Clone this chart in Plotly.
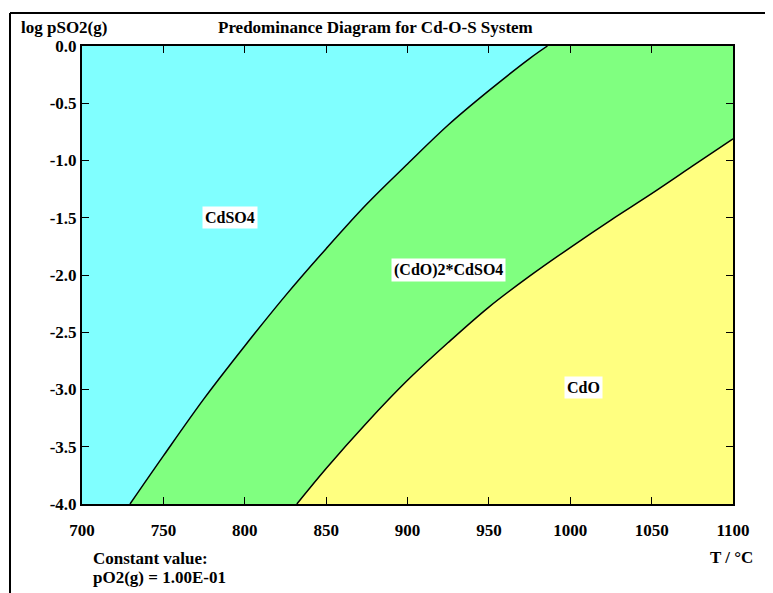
import plotly.graph_objects as go

# ---- data ----
T_RANGE = [700, 1100]
LOGP_RANGE = [-4.0, 0.0]

# boundary CdSO4 / (CdO)2*CdSO4
t_b1 = [729.5, 750, 775, 800, 825, 850, 875, 900, 925, 950, 975, 986]
y_b1 = [-4.00, -3.58, -3.08, -2.62, -2.18, -1.77, -1.38, -1.03, -0.69, -0.39, -0.11, 0.00]

# boundary (CdO)2*CdSO4 / CdO
t_b2 = [832, 850, 875, 900, 925, 950, 975, 1000, 1025, 1050, 1075, 1100]
y_b2 = [-4.00, -3.69, -3.29, -2.92, -2.59, -2.28, -2.01, -1.76, -1.52, -1.29, -1.05, -0.81]

x_tickvals = [700, 750, 800, 850, 900, 950, 1000, 1050, 1100]
x_ticktext = ["700", "750", "800", "850", "900", "950", "1000", "1050", "1100"]
y_tickvals = [0.0, -0.5, -1.0, -1.5, -2.0, -2.5, -3.0, -3.5, -4.0]
y_ticktext = ["0.0", "-0.5", "-1.0", "-1.5", "-2.0", "-2.5", "-3.0", "-3.5", "-4.0"]

region_names = ["CdSO4", "(CdO)2*CdSO4", "CdO"]
region_x = [791, 925, 1008]
region_y = [-1.50, -1.96, -2.98]

CYAN = "#80FFFF"
GREEN = "#80FF80"
YELLOW = "#FFFF80"
FONT = "Liberation Serif"

fig = go.Figure()

# green region: right of boundary 1
fig.add_trace(go.Scatter(
    x=t_b1 + [T_RANGE[1], T_RANGE[1]],
    y=y_b1 + [LOGP_RANGE[1], LOGP_RANGE[0]],
    fill="toself", fillcolor=GREEN, mode="lines", line=dict(width=0),
    hoverinfo="skip", showlegend=False))

# yellow region: right of boundary 2
fig.add_trace(go.Scatter(
    x=t_b2 + [T_RANGE[1]],
    y=y_b2 + [LOGP_RANGE[0]],
    fill="toself", fillcolor=YELLOW, mode="lines", line=dict(width=0),
    hoverinfo="skip", showlegend=False))

# boundary lines
for tx, ty in [(t_b1, y_b1), (t_b2, y_b2)]:
    fig.add_trace(go.Scatter(
        x=tx, y=ty, mode="lines",
        line=dict(color="black", width=1.5, shape="spline", smoothing=1.0),
        hoverinfo="skip", showlegend=False))

# region labels
for name, x, y in zip(region_names, region_x, region_y):
    fig.add_annotation(x=x, y=y, text=f"<b>{name}</b>", showarrow=False,
                       bgcolor="white", borderpad=2,
                       font=dict(family=FONT, size=16, color="black"))

# page pixel geometry (page has an 8px body margin)
OFF = 8
L, R, T, B = 82, 733, 46, 504
W, H = 773, 593
pw, ph = R - L, B - T

def px_x(p):
    return (p - L) / pw

def px_y(p):
    return (B - p) / ph

# outer frame (left and top edges visible, others cut off)
fig.add_shape(type="line", xref="paper", yref="paper",
              x0=px_x(10), y0=px_y(13), x1=px_x(W + 20), y1=px_y(13),
              line=dict(color="black", width=2))
fig.add_shape(type="line", xref="paper", yref="paper",
              x0=px_x(10), y0=px_y(13), x1=px_x(10), y1=px_y(H + 20),
              line=dict(color="black", width=2))

def txt(text, x, y, xanchor="left", size=17):
    fig.add_annotation(xref="paper", yref="paper", x=px_x(x), y=px_y(y),
                       text=f"<b>{text}</b>", showarrow=False,
                       xanchor=xanchor, yanchor="middle",
                       font=dict(family=FONT, size=size, color="black"))

txt("Predominance Diagram for Cd-O-S System", 375, 27, "center")
txt("log pSO2(g)", 19, 27)
txt("T / °C", 755, 557, "right")
txt("Constant value:", 91, 558)
txt("pO2(g) = 1.00E-01", 91, 577)

fig.update_xaxes(range=T_RANGE, tickvals=x_tickvals, ticktext=x_ticktext,
                 showgrid=False, zeroline=False, showline=True, linecolor="black",
                 linewidth=2, mirror="ticks", ticks="inside", ticklen=7,
                 tickcolor="black", tickwidth=1, ticklabelstandoff=10,
                 tickfont=dict(family=FONT, size=17, color="black", weight="bold"))
fig.update_yaxes(range=LOGP_RANGE, tickvals=y_tickvals, ticktext=y_ticktext,
                 showgrid=False, zeroline=False, showline=True, linecolor="black",
                 linewidth=2, mirror="ticks", ticks="inside", ticklen=7,
                 tickcolor="black", tickwidth=1,
                 tickfont=dict(family=FONT, size=17, color="black", weight="bold"))

fig.update_layout(width=W - OFF, height=H - OFF,
                  margin=dict(l=L - OFF, r=W - R, t=T - OFF, b=H - B),
                  plot_bgcolor=CYAN, paper_bgcolor="white",
                  showlegend=False)

fig.write_html("out.html")
